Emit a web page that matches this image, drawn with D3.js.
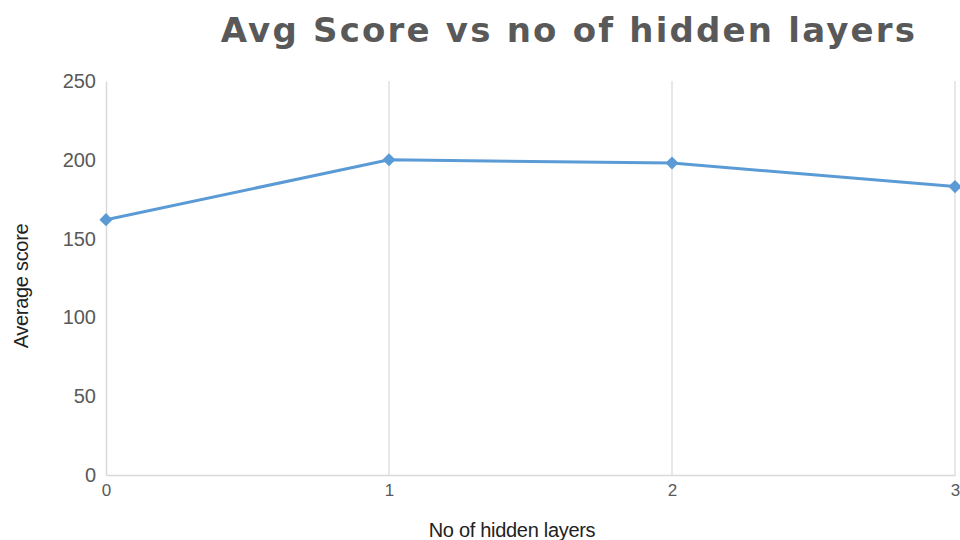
<!DOCTYPE html>
<html>
<head>
<meta charset="utf-8">
<script src="https://cdn.jsdelivr.net/npm/d3@7"></script>
<style>
  html, body { margin: 0; padding: 0; background: #fff; }
  svg { display: block; }
</style>
</head>
<body>
<svg id="chart" width="960" height="540"></svg>
<script>
// Average score per number of hidden layers
const layers = [0, 1, 2, 3];
const avgScores = [162, 200, 198, 183];
const yTicks = [0, 50, 100, 150, 200, 250];

const svg = d3.select("#chart");
const margin = { left: 106, right: 5, top: 81, bottom: 65 };
const W = 960, H = 540;

const x = d3.scaleLinear().domain([0, 3]).range([margin.left, W - margin.right]);
const y = d3.scaleLinear().domain([0, 250]).range([H - margin.bottom, margin.top]);

// Title
svg.append("text")
  .attr("x", 569).attr("y", 42)
  .attr("text-anchor", "middle")
  .attr("font-family", "DejaVu Sans")
  .attr("font-weight", "bold")
  .attr("font-size", 34)
  .attr("letter-spacing", 2.2)
  .attr("fill", "#595959")
  .text("Avg Score vs no of hidden layers");

// Vertical grid lines at each category
svg.append("g").selectAll("line").data(layers.slice(1)).join("line")
  .attr("x1", d => x(d)).attr("x2", d => x(d))
  .attr("y1", y(250)).attr("y2", y(0))
  .attr("stroke", "#d9d9d9").attr("stroke-width", 1.2);

// Axes
const yAxis = svg.append("g")
  .attr("transform", `translate(${margin.left},0)`)
  .call(d3.axisLeft(y).tickValues(yTicks).tickSize(0).tickPadding(10));
yAxis.select(".domain").attr("stroke", "#d9d9d9").attr("stroke-width", 1.5);
yAxis.selectAll("text")
  .attr("font-family", "Liberation Sans, Arial, sans-serif")
  .attr("font-size", 20).attr("fill", "#595959");

const xAxis = svg.append("g")
  .attr("transform", `translate(0,${y(0)})`)
  .call(d3.axisBottom(x).tickValues(layers).tickFormat(d3.format("d")).tickSize(0).tickPadding(9));
xAxis.select(".domain").attr("stroke", "#d9d9d9").attr("stroke-width", 1.5);
xAxis.selectAll("text")
  .attr("font-family", "Liberation Sans, Arial, sans-serif")
  .attr("font-size", 17).attr("fill", "#595959");

// Axis titles
svg.append("text")
  .attr("transform", "translate(28,286) rotate(-90)")
  .attr("text-anchor", "middle")
  .attr("font-family", "Liberation Sans, Arial, sans-serif")
  .attr("font-size", 20).attr("letter-spacing", -0.3).attr("fill", "#222")
  .text("Average score");

svg.append("text")
  .attr("x", 512).attr("y", 537)
  .attr("text-anchor", "middle")
  .attr("font-family", "Liberation Sans, Arial, sans-serif")
  .attr("font-size", 20).attr("letter-spacing", -0.3).attr("fill", "#222")
  .text("No of hidden layers");

// Series line and markers
const data = layers.map((l, i) => ({ l, v: avgScores[i] }));
svg.append("path")
  .datum(data)
  .attr("fill", "none")
  .attr("stroke", "#5b9bd5")
  .attr("stroke-width", 3)
  .attr("d", d3.line().x(d => x(d.l)).y(d => y(d.v)));

svg.append("g").selectAll("path").data(data).join("path")
  .attr("transform", d => `translate(${x(d.l)},${y(d.v)})`)
  .attr("d", d3.symbol(d3.symbolDiamond2, 110))
  .attr("fill", "#5b9bd5");
</script>
</body>
</html>
